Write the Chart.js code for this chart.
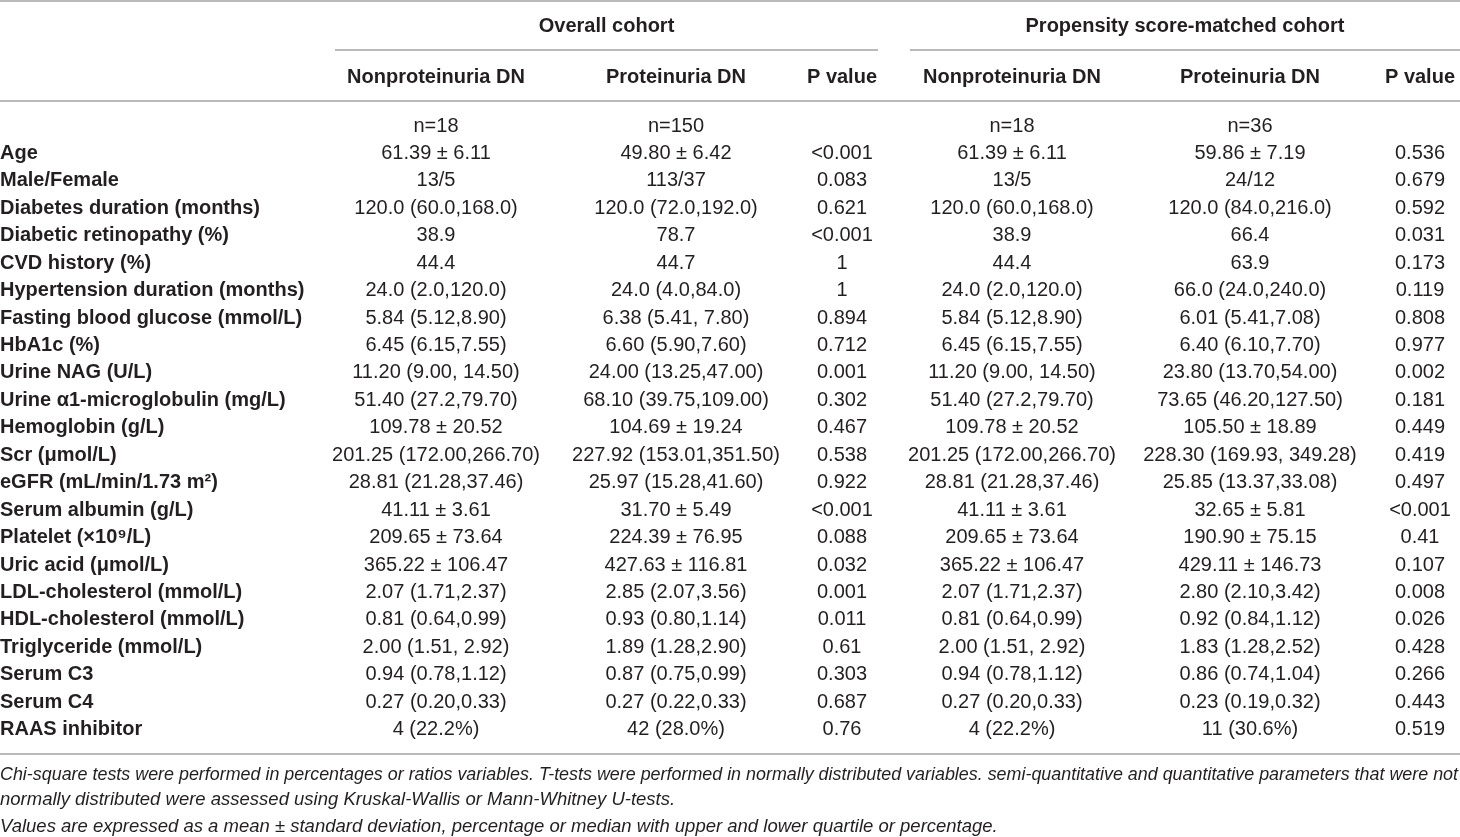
<!DOCTYPE html>
<html>
<head>
<meta charset="utf-8">
<script src="https://cdn.jsdelivr.net/npm/chart.js@4.4.1/dist/chart.umd.min.js"></script>
<style>
  html, body { margin: 0; padding: 0; background: #fff; }
  #wrap { width: 1460px; height: 837px; position: relative; }
</style>
</head>
<body>
<div id="wrap"><canvas id="table-chart"></canvas></div>
<script>
// first row (sample sizes) has no label
const rowLabels = [
  "",
  "Age",
  "Male/Female",
  "Diabetes duration (months)",
  "Diabetic retinopathy (%)",
  "CVD history (%)",
  "Hypertension duration (months)",
  "Fasting blood glucose (mmol/L)",
  "HbA1c (%)",
  "Urine NAG (U/L)",
  "Urine \u03b11-microglobulin (mg/L)",
  "Hemoglobin (g/L)",
  "Scr (\u03bcmol/L)",
  "eGFR (mL/min/1.73 m\u00b2)",
  "Serum albumin (g/L)",
  "Platelet (\u00d710\u2079/L)",
  "Uric acid (\u03bcmol/L)",
  "LDL-cholesterol (mmol/L)",
  "HDL-cholesterol (mmol/L)",
  "Triglyceride (mmol/L)",
  "Serum C3",
  "Serum C4",
  "RAAS inhibitor",
];

const groupHeaders = ["Overall cohort", "Propensity score-matched cohort"];
const columnHeaders = ["Nonproteinuria DN", "Proteinuria DN", "P value", "Nonproteinuria DN", "Proteinuria DN", "P value"];

const overallNonprot = [
  "n=18", "61.39 \u00b1 6.11", "13/5", "120.0 (60.0,168.0)", "38.9", "44.4", "24.0 (2.0,120.0)",
  "5.84 (5.12,8.90)", "6.45 (6.15,7.55)", "11.20 (9.00, 14.50)", "51.40 (27.2,79.70)",
  "109.78 \u00b1 20.52", "201.25 (172.00,266.70)", "28.81 (21.28,37.46)", "41.11 \u00b1 3.61",
  "209.65 \u00b1 73.64", "365.22 \u00b1 106.47", "2.07 (1.71,2.37)", "0.81 (0.64,0.99)",
  "2.00 (1.51, 2.92)", "0.94 (0.78,1.12)", "0.27 (0.20,0.33)", "4 (22.2%)",
];
const overallProt = [
  "n=150", "49.80 \u00b1 6.42", "113/37", "120.0 (72.0,192.0)", "78.7", "44.7", "24.0 (4.0,84.0)",
  "6.38 (5.41, 7.80)", "6.60 (5.90,7.60)", "24.00 (13.25,47.00)", "68.10 (39.75,109.00)",
  "104.69 \u00b1 19.24", "227.92 (153.01,351.50)", "25.97 (15.28,41.60)", "31.70 \u00b1 5.49",
  "224.39 \u00b1 76.95", "427.63 \u00b1 116.81", "2.85 (2.07,3.56)", "0.93 (0.80,1.14)",
  "1.89 (1.28,2.90)", "0.87 (0.75,0.99)", "0.27 (0.22,0.33)", "42 (28.0%)",
];
const overallP = [
  "", "<0.001", "0.083", "0.621", "<0.001", "1", "1", "0.894", "0.712", "0.001", "0.302",
  "0.467", "0.538", "0.922", "<0.001", "0.088", "0.032", "0.001", "0.011", "0.61", "0.303",
  "0.687", "0.76",
];
const psmNonprot = [
  "n=18", "61.39 \u00b1 6.11", "13/5", "120.0 (60.0,168.0)", "38.9", "44.4", "24.0 (2.0,120.0)",
  "5.84 (5.12,8.90)", "6.45 (6.15,7.55)", "11.20 (9.00, 14.50)", "51.40 (27.2,79.70)",
  "109.78 \u00b1 20.52", "201.25 (172.00,266.70)", "28.81 (21.28,37.46)", "41.11 \u00b1 3.61",
  "209.65 \u00b1 73.64", "365.22 \u00b1 106.47", "2.07 (1.71,2.37)", "0.81 (0.64,0.99)",
  "2.00 (1.51, 2.92)", "0.94 (0.78,1.12)", "0.27 (0.20,0.33)", "4 (22.2%)",
];
const psmProt = [
  "n=36", "59.86 \u00b1 7.19", "24/12", "120.0 (84.0,216.0)", "66.4", "63.9", "66.0 (24.0,240.0)",
  "6.01 (5.41,7.08)", "6.40 (6.10,7.70)", "23.80 (13.70,54.00)", "73.65 (46.20,127.50)",
  "105.50 \u00b1 18.89", "228.30 (169.93, 349.28)", "25.85 (13.37,33.08)", "32.65 \u00b1 5.81",
  "190.90 \u00b1 75.15", "429.11 \u00b1 146.73", "2.80 (2.10,3.42)", "0.92 (0.84,1.12)",
  "1.83 (1.28,2.52)", "0.86 (0.74,1.04)", "0.23 (0.19,0.32)", "11 (30.6%)",
];
const psmP = [
  "", "0.536", "0.679", "0.592", "0.031", "0.173", "0.119", "0.808", "0.977", "0.002", "0.181",
  "0.449", "0.419", "0.497", "<0.001", "0.41", "0.107", "0.008", "0.026", "0.428", "0.266",
  "0.443", "0.519",
];

const footnotes = [
  "Chi-square tests were performed in percentages or ratios variables. T-tests were performed in normally distributed variables. semi-quantitative and quantitative parameters that were not",
  "normally distributed were assessed using Kruskal-Wallis or Mann-Whitney U-tests.",
  "Values are expressed as a mean \u00b1 standard deviation, percentage or median with upper and lower quartile or percentage.",
];

// layout (pixels / x-scale units)
const labelWidth = 330;
const colCenter = [436, 676, 842, 1012, 1250, 1420];
const groupSpan = [[335, 878], [910, 1460]];
const ruleY = { top: 1, group: 50, header: 101, bottom: 754 };
const headerY = { group: 26, column: 77 };
const footY = [775, 800, 827];

const FONT = "'Liberation Sans', Arial, Helvetica, sans-serif";
const TEXT = "#231f20";
const RULE = "#a3a3a3";

const columns = [overallNonprot, overallProt, overallP, psmNonprot, psmProt, psmP];

const tableText = {
  id: "tableText",
  afterDraw(chart) {
    const ctx = chart.ctx;
    const xs = chart.scales.x;
    const left = xs.getPixelForValue(0);
    const right = xs.getPixelForValue(1460);

    ctx.save();
    ctx.strokeStyle = RULE;
    ctx.lineWidth = 1.5;
    const hline = (x0, x1, y) => {
      ctx.beginPath();
      ctx.moveTo(x0, y);
      ctx.lineTo(x1, y);
      ctx.stroke();
    };
    hline(left, right, ruleY.top);
    hline(left, right, ruleY.header);
    hline(left, right, ruleY.bottom);
    groupSpan.forEach((s) => hline(xs.getPixelForValue(s[0]), xs.getPixelForValue(s[1]), ruleY.group));

    ctx.fillStyle = TEXT;
    ctx.textBaseline = "middle";
    ctx.textAlign = "center";
    ctx.font = "bold 20px " + FONT;
    groupHeaders.forEach((h, g) => {
      const mid = (groupSpan[g][0] + groupSpan[g][1]) / 2;
      ctx.fillText(h, xs.getPixelForValue(mid), headerY.group);
    });
    columnHeaders.forEach((h, c) => {
      ctx.fillText(h, xs.getPixelForValue(colCenter[c]), headerY.column);
    });

    ctx.font = "20px " + FONT;
    chart.data.datasets.forEach((ds, c) => {
      const meta = chart.getDatasetMeta(c);
      meta.data.forEach((pt, i) => {
        if (ds.cells[i]) ctx.fillText(ds.cells[i], pt.x, pt.y);
      });
    });

    ctx.textAlign = "left";
    ctx.font = "italic 18.5px " + FONT;
    footnotes.forEach((t, i) => {
      ctx.fillText(t, left, footY[i], right - left - 2);
    });
    ctx.restore();
  },
};

new Chart(document.getElementById("table-chart"), {
  type: "scatter",
  data: {
    labels: rowLabels,
    datasets: columns.map((col, c) => ({
      label: columnHeaders[c],
      cells: col,
      data: col.map((v, i) => ({ x: colCenter[c], y: i })),
      pointRadius: 0,
      pointHoverRadius: 0,
    })),
  },
  options: {
    responsive: true,
    maintainAspectRatio: false,
    animation: false,
    events: [],
    layout: { padding: { top: 112.3, bottom: 93.6, left: 0, right: 0 } },
    plugins: { legend: { display: false }, tooltip: { enabled: false } },
    scales: {
      // x-scale units equal page pixels: axis box covers [0, labelWidth]
      x: { type: "linear", min: labelWidth, max: 1460, display: false },
      y: {
        type: "category",
        labels: rowLabels,
        offset: true,
        grid: { display: false },
        border: { display: false },
        afterFit: (scale) => { scale.width = labelWidth; },
        ticks: {
          autoSkip: false,
          crossAlign: "far",
          color: TEXT,
          font: { family: FONT, size: 20, weight: "bold" },
        },
      },
    },
  },
  plugins: [tableText],
});
</script>
</body>
</html>
